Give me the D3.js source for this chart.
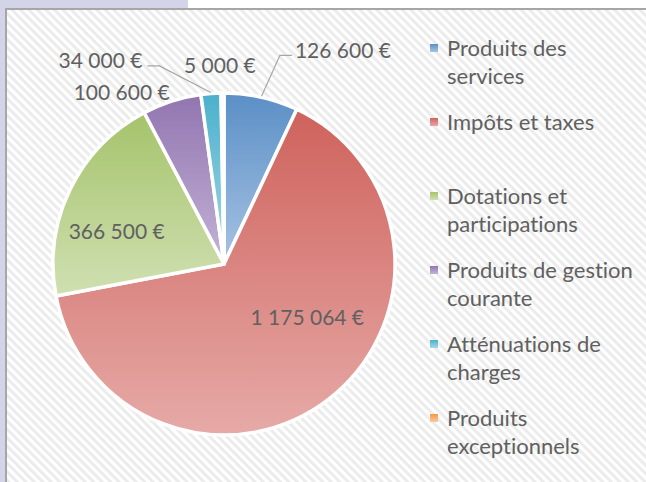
<!DOCTYPE html>
<html><head><meta charset="utf-8">
<script src="https://cdn.jsdelivr.net/npm/d3@7/dist/d3.min.js"></script>
<style>body{margin:0;background:#fff}svg{display:block}text{font-variant-ligatures:none;font-feature-settings:"liga" 0,"clig" 0}</style>
</head><body><svg id="c" width="646" height="482"></svg>
<script>
const categories = ["Produits des services","Impôts et taxes","Dotations et participations","Produits de gestion courante","Atténuations de charges","Produits exceptionnels"];
const values = [126600, 1175064, 366500, 100600, 34000, 5000];
const valueLabels = ["126 600 €","1 175 064 €","366 500 €","100 600 €","34 000 €","5 000 €"];
const legendLines = [["Produits des","services"],["Impôts et taxes"],["Dotations et","participations"],["Produits de gestion","courante"],["Atténuations de","charges"],["Produits","exceptionnels"]];
const topColors = ["#5a8fc6","#cf625c","#a5c36b","#9275b0","#4bb0cc","#f79646"];
const bottomColors = ["#a8c3e3","#e6aaa7","#d0e0b2","#c3b3d7","#a6d8e6","#fbc9a0"];
// label placement: angle (deg clockwise from 12 o'clock) and radius ratio
const labelAngle = [29.1, 122.9, 286.6, 329.1, 328.7, 358.8];
const labelRadius = [1.43, 0.58, 0.655, 1.165, 1.39, 1.16];

const svg = d3.select("#c");
const defs = svg.append("defs");
const pat = defs.append("pattern").attr("id","hatch").attr("patternUnits","userSpaceOnUse")
  .attr("width",6).attr("height",6).attr("patternTransform","rotate(-45)");
pat.append("rect").attr("width",6).attr("height",6).attr("fill","#ffffff");
pat.append("rect").attr("width",3).attr("height",6).attr("fill","#ececec");

categories.forEach((c,i)=>{
  const g = defs.append("linearGradient").attr("id","g"+i).attr("x1",0).attr("y1",0).attr("x2",0).attr("y2",1);
  g.append("stop").attr("offset","0%").attr("stop-color",topColors[i]);
  g.append("stop").attr("offset","100%").attr("stop-color",bottomColors[i]);
});

svg.append("rect").attr("width",646).attr("height",482).attr("fill","#fff");
svg.append("rect").attr("x",0).attr("y",0).attr("width",188).attr("height",9).attr("fill","#d4d4e8");
svg.append("rect").attr("x",0).attr("y",0).attr("width",5).attr("height",482).attr("fill","#d4d4e8");
svg.append("rect").attr("x",6).attr("y",9).attr("width",660).attr("height",490)
  .attr("fill","url(#hatch)").attr("stroke","#a6a6a6").attr("stroke-width",2);

const cx = 224, cy = 264, R = 171;
const font = "Lato, 'Open Sans', sans-serif";
const textColor = "#606060";

const pie = d3.pie().sort(null).value(d=>d)(values);
const arc = d3.arc().innerRadius(0).outerRadius(R);
const gp = svg.append("g").attr("transform",`translate(${cx},${cy})`);
gp.selectAll("path").data(pie).join("path")
  .attr("d",arc).attr("fill",(d,i)=>`url(#g${i})`)
  .attr("stroke","#fff").attr("stroke-width",3.5).attr("stroke-linejoin","round");

const polar = (deg, r) => { const a = deg*Math.PI/180; return [r*Math.sin(a), -r*Math.cos(a)]; };

// labels
const labels = gp.selectAll("text.lbl").data(pie).join("text").attr("class","lbl")
  .attr("x",(d,i)=>polar(labelAngle[i], labelRadius[i]*R)[0])
  .attr("y",(d,i)=>polar(labelAngle[i], labelRadius[i]*R)[1])
  .attr("dy","0.35em").attr("text-anchor","middle")
  .attr("font-family",font).attr("font-size",21).attr("fill",textColor)
  .text((d,i)=>valueLabels[i]);

// leader lines for slices 0 and 4
const leaderIdx = [0,4];
leaderIdx.forEach(i=>{
  const d = pie[i];
  const mid = (d.startAngle + d.endAngle)/2*180/Math.PI;
  const p0 = polar(mid, R+1);
  const node = labels.nodes()[i];
  const bb = node.getBBox();
  const ly = polar(labelAngle[i], labelRadius[i]*R)[1] + 5;
  let p1, p2;
  if (p0[0] > 0) { p2 = [bb.x - 3, ly]; p1 = [bb.x - 15, ly]; }
  else { p2 = [bb.x + bb.width + 5, ly]; p1 = [bb.x + bb.width + 17, ly]; }
  gp.append("path").attr("d", d3.line()([p0,p1,p2]))
    .attr("fill","none").attr("stroke","#a6a6a6").attr("stroke-width",1.2);
});

// legend
const ly = d3.scalePoint().domain(categories).range([48, 418]);
const lg = svg.append("g");
categories.forEach((c,i)=>{
  const y = ly(c);
  lg.append("rect").attr("x",430).attr("y",y-4).attr("width",8).attr("height",8).attr("fill",`url(#g${i})`);
  const t = lg.append("text").attr("x",447).attr("y",y)
    .attr("font-family",font).attr("font-size",22).attr("fill",textColor);
  legendLines[i].forEach((ln,k)=>{
    t.append("tspan").attr("x",447).attr("dy", k===0 ? "0.35em" : 28.5).text(ln);
  });
});
</script></body></html>
